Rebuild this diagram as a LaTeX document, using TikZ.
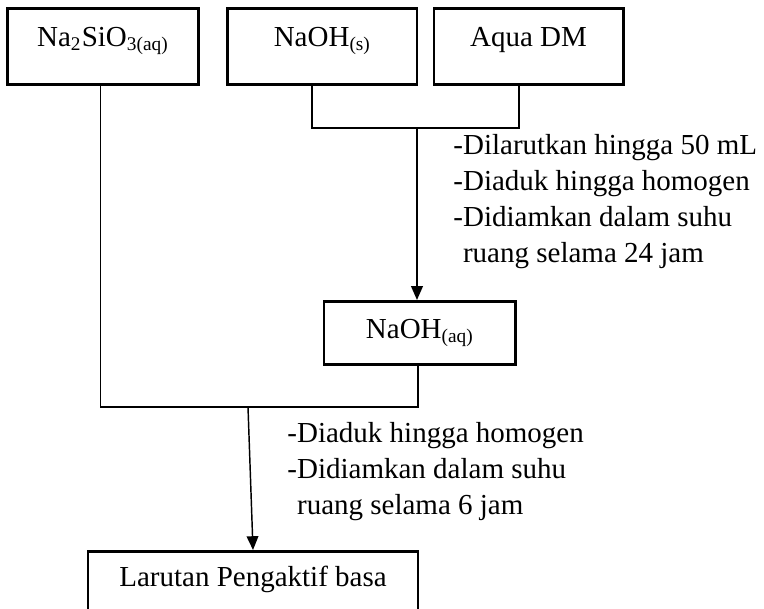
\documentclass[tikz,border=0pt]{standalone}
\usepackage{fontspec}
\setmainfont{Liberation Serif}
\usetikzlibrary{arrows.meta}

\begin{document}
\begin{tikzpicture}[every node/.style={font=\fontsize{12pt}{14.9pt}\selectfont},
        stuff/.style={draw=black,line width=1.2pt,inner sep=0pt,align=center,anchor=north},
        tall/.style={stuff,text height=0.55cm,text depth=0.55cm},
        flow/.style={line width=0.6pt},
        tip/.style={flow,-{Triangle[width=0.17cm,length=0.2cm]}},
        notes/.style={align=left,anchor=base west,inner sep=0pt}]
    \useasboundingbox (0,0) rectangle (11.112,-8.857);
    \clip (0,0) rectangle (11.112,-8.857);

    \node[tall,minimum width=2.79cm] (silikat) at (1.498,-0.102) {Na\textsubscript{2}SiO\textsubscript{3(aq)}};
    \node[tall,minimum width=2.75cm] (naohs) at (4.690,-0.102) {NaOH\textsubscript{(s)}};
    \node[tall,minimum width=2.75cm] (aqua) at (7.687,-0.102) {Aqua DM};
    \node[stuff,minimum width=2.79cm,text height=0.54cm,text depth=0.38cm] (naohaq) at (6.108,-4.363) {NaOH\textsubscript{(aq)}};
    \node[tall,minimum width=4.8cm,text height=0.51cm] (larutan) at (3.680,-7.999) {Larutan Pengaktif basa};

    \coordinate (j1) at (6.065,-1.862);
    \coordinate (j2) at (3.607,-5.919);

    \draw[flow] ([xshift=-0.15cm]naohs.south) |- (j1) -| ([xshift=-0.14cm]aqua.south);
    \draw[tip] (j1) -- (j1 |- naohaq.north);
    \draw[flow] ([xshift=-0.04cm]silikat.south) |- (j2) -| ([xshift=-0.03cm]naohaq.south);
    \draw[tip] (j2) -- (larutan.north);

    % base = baseline of the last line
    \node[notes] (langkah1) at (6.588,-3.825) {-Dilarutkan hingga 50 mL\\-Diaduk hingga homogen\\-Didiamkan dalam suhu\\\phantom{-}ruang selama 24 jam};
    \node[notes] (langkah2) at (4.174,-7.490) {-Diaduk hingga homogen\\-Didiamkan dalam suhu\\\phantom{-}ruang selama 6 jam};
\end{tikzpicture}
\end{document}
